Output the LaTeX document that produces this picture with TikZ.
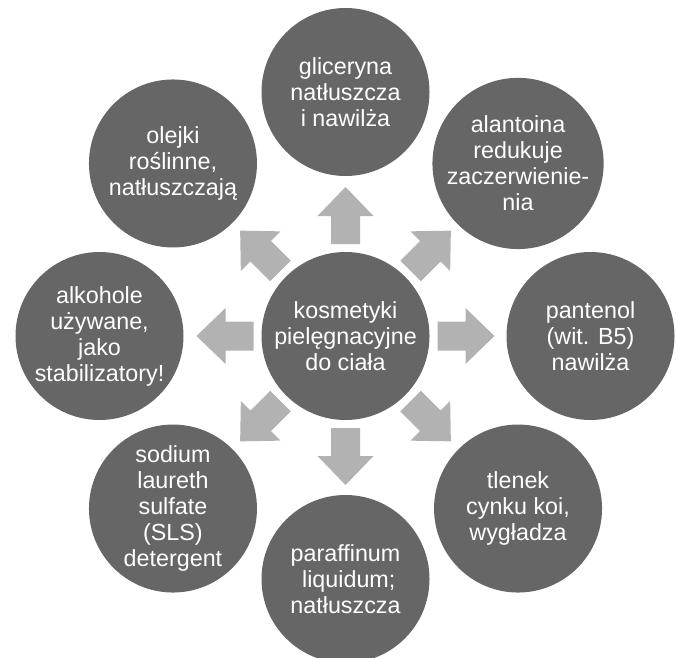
\documentclass[tikz,border=0pt]{standalone}
\usepackage{fontspec}
\setmainfont{Liberation Sans}
\usetikzlibrary{calc}
\definecolor{circ}{RGB}{102,102,102}
\definecolor{arr}{RGB}{178,178,178}
\begin{document}
\begin{tikzpicture}[x=1pt,y=1pt,
  bubble/.style={circle, fill=circ, minimum size=168pt, inner sep=0pt, text=white, align=center, font=\fontsize{23.3}{26}\selectfont},
  blockarrow/.style={fill=arr, draw=none}]
\useasboundingbox (0,0) rectangle (676,657);
\clip (0,0) rectangle (676,657);
\node[bubble] (c) at (345.5,321) {kosmetyki\\pielęgnacyjne\\do ciała};
\node[bubble] (n)  at ($(c)+(90:244)$)   {gliceryna\\natłuszcza\\i nawilża};
\node[bubble] (ne) at ($(c)+(45:244)$)   {alantoina\\redukuje\\zaczerwienie-\\nia};
\node[bubble] (e)  at ($(c)+(0:245)$)    {pantenol\\(wit. B5)\\nawilża};
\node[bubble] (se) at ($(c)+(-45:244)$)  {tlenek\\cynku koi,\\wygładza};
\node[bubble] (s)  at ($(c)+(-90:243)$)  {paraffinum\\\hbox{}\ liquidum;\\natłuszcza};
\node[bubble] (sw) at ($(c)+(-135:244)$) {sodium\\laureth\\sulfate\\(SLS)\\detergent};
\node[bubble] (w)  at ($(c)+(180:246)$)  {alkohole\\używane,\\jako\\stabilizatory!};
\node[bubble] (nw) at ($(c)+(135:244)$)  {olejki\\roślinne,\\natłuszczają};
\foreach \a in {90,45,0,-45,-90,-135,180,135}{
  \fill[blockarrow, shift={(c)}, rotate=\a]
    (92,-14.5) -- (120,-14.5) -- (120,-28) -- (149,0) -- (120,28) -- (120,14.5) -- (92,14.5) -- cycle;
}
\end{tikzpicture}
\end{document}
